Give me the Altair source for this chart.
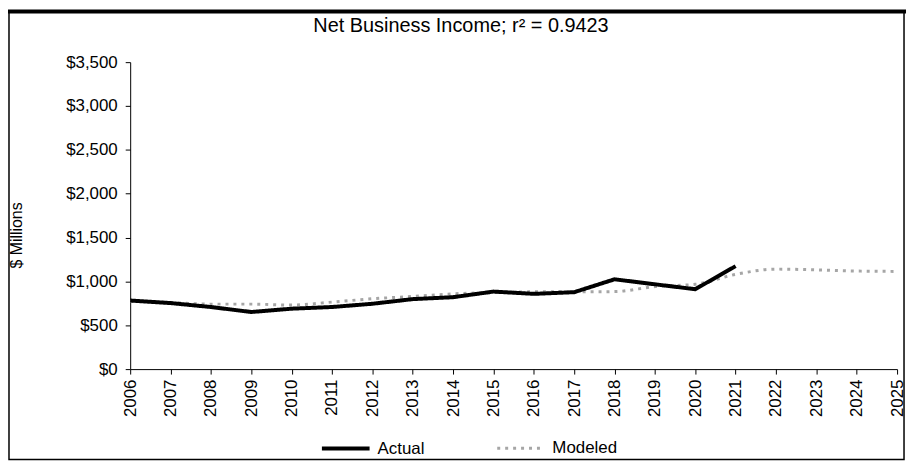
import altair as alt
import pandas as pd

years = list(range(2006, 2026))
actual_years = list(range(2006, 2022))
actual = [782, 753, 708, 651, 689, 708, 745, 798, 820, 884, 858, 877, 1024, 967, 911, 1174]
modeled = [775, 760, 741, 741, 730, 764, 802, 828, 858, 873, 881, 881, 884, 941, 967, 1080,
           1140, 1132, 1118, 1114]
y_ticks = [0, 500, 1000, 1500, 2000, 2500, 3000, 3500]
series_names = ["Actual", "Modeled"]
title_text = "Net Business Income; r\u00b2 = 0.9423"

rows = [{"year": y, "value": v, "series": "Actual"} for y, v in zip(actual_years, actual)]
rows += [{"year": y, "value": v, "series": "Modeled"} for y, v in zip(years, modeled)]
df = pd.DataFrame(rows)

FONT = "Liberation Sans"

x_enc = alt.X("year:Q", scale=alt.Scale(domain=[2006, 2025], nice=False, zero=False),
              axis=alt.Axis(values=years, format="d", labelAngle=-90, tickSize=5,
                            labelPadding=5, labelFontSize=17, title=None,
                            domainColor="black", tickColor="black", labelColor="black",
                            grid=False, labelFlush=False))
y_enc = alt.Y("value:Q", scale=alt.Scale(domain=[0, 3500], nice=False),
              axis=alt.Axis(values=y_ticks, format="$,.0f", tickSize=5, labelPadding=8,
                            labelFontSize=17, title="$ Millions", titleFontSize=16,
                            titleFontWeight="normal", titleX=-106, titleY=174,
                            domainColor="black", tickColor="black", labelColor="black",
                            titleColor="black", grid=False))

color = alt.Color("series:N", scale=alt.Scale(domain=series_names, range=["black", "#a6a6a6"]),
                  legend=alt.Legend(title=None, orient="none", legendX=191, legendY=363,
                                    direction="horizontal", symbolType="stroke",
                                    symbolSize=2304, labelFontSize=17, labelOffset=6,
                                    columnPadding=66, labelColor="black", padding=0))
dash = alt.StrokeDash("series:N", scale=alt.Scale(domain=series_names, range=[[1, 0], [3, 5]]),
                      legend=None)
width_enc = alt.StrokeWidth("series:N", scale=alt.Scale(domain=series_names, range=[4, 3]),
                            legend=None)

actual_line = alt.Chart(df).transform_filter(alt.datum.series == "Actual").mark_line(
    interpolate="linear").encode(x=x_enc, y=y_enc, color=color, strokeDash=dash,
                                 strokeWidth=width_enc)
model_line = alt.Chart(df).transform_filter(alt.datum.series == "Modeled").mark_line(
    interpolate="monotone").encode(x=x_enc, y=y_enc, color=color, strokeDash=dash,
                                   strokeWidth=width_enc)

one = pd.DataFrame({"k": [0]})
frame = alt.Chart(one).mark_rect(
    fill=None, stroke="black", strokeWidth=1.5).encode(
    x=alt.value(-122), x2=alt.value(779), y=alt.value(-51), y2=alt.value(400))
top_bar = alt.Chart(one).mark_rule(
    stroke="black", strokeWidth=4).encode(
    x=alt.value(-123), x2=alt.value(781), y=alt.value(-51))
title = alt.Chart(one).mark_text(
    text=title_text, fontSize=20, font=FONT, color="black", align="center",
    baseline="middle").encode(x=alt.value(333), y=alt.value(-36))

chart = alt.layer(model_line, actual_line, frame, top_bar, title).properties(
    width=772, height=309,
    autosize=alt.AutoSizeParams(type="none"),
    padding={"left": 123, "top": 53, "right": 10, "bottom": 92},
).configure(font=FONT).configure_view(strokeWidth=0)

chart.save("out.html", embed_options={"renderer": "svg", "actions": False})
